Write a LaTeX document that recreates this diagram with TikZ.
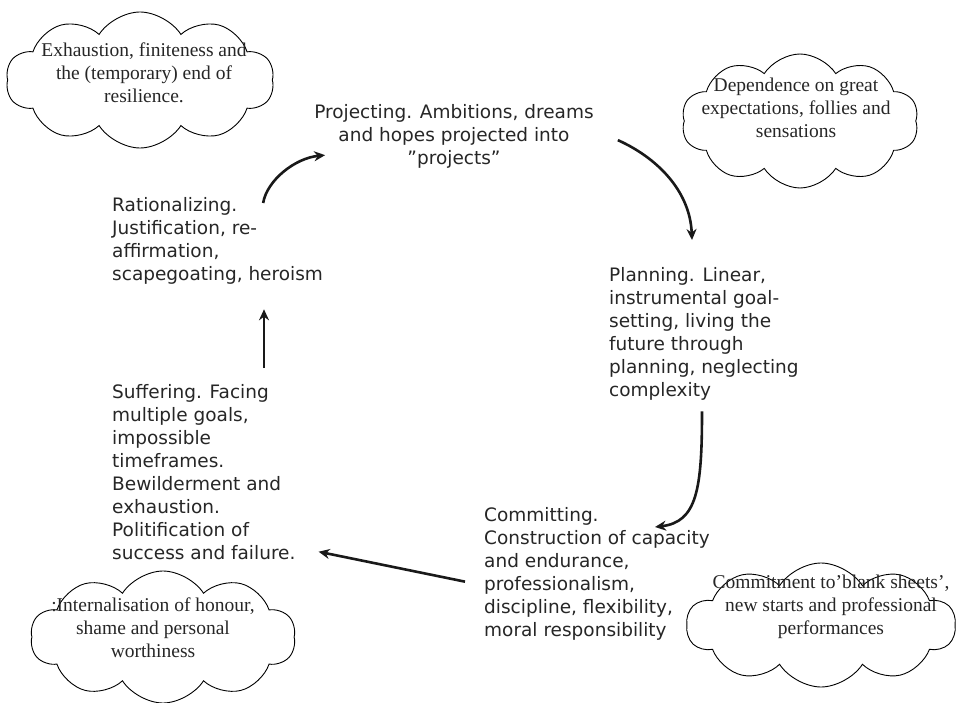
\documentclass[tikz,border=0pt]{standalone}
\usepackage{fontspec}
\setmainfont{DejaVu Sans}
\newfontfamily\cloudfont{Liberation Serif}
\usetikzlibrary{shapes.symbols,arrows.meta}

\begin{document}
\begin{tikzpicture}[x=1pt, y=-1pt]
  \tikzset{stage/.style={align=left,anchor=north west,inner sep=0pt,text=black!85,
                         font=\fontsize{18.5}{23}\selectfont},
           cloudbox/.style={cloud,draw,line width=0.9pt,cloud puffs=10,cloud puff arc=115,
                            cloud ignores aspect,inner sep=0pt},
           cloudtext/.style={align=center,inner sep=0pt,text=black!85,
                             font=\cloudfont\fontsize{19.5}{23}\selectfont},
           flow/.style={line width=2.6pt,black!90,-{Stealth[length=11pt,width=10pt]}}}
  \useasboundingbox (0,0) rectangle (965,703);
  \node[stage,anchor=north,align=center] (proj) at (454,104)
       {Projecting. Ambitions, dreams\\and hopes projected into\\”projects”};
  \node[stage] (plan) at (609,267)
       {Planning. Linear,\\instrumental goal-\\setting, living the\\future through\\planning, neglecting\\complexity};
  \node[stage] (com) at (484,507)
       {Committing.\\Construction of capacity\\and endurance,\\professionalism,\\discipline, flexibility,\\moral responsibility};
  \node[stage] (suf) at (112,384)
       {Suffering. Facing\\multiple goals,\\impossible\\timeframes.\\Bewilderment and\\exhaustion.\\Politification of\\success and failure.};
  \node[stage] (rat) at (112,197)
       {Rationalizing.\\Justification, re-\\affirmation,\\scapegoating, heroism};
  \node[cloudbox,minimum width=268,minimum height=136] (exh) at (140,80) {};
  \node[cloudtext] (exht) at (144,73) {Exhaustion, finiteness and\\the (temporary) end of\\resilience.};
  \node[cloudbox,minimum width=237,minimum height=134] (dep) at (800,121) {};
  \node[cloudtext] (dept) at (796,108) {Dependence on great\\expectations, follies and\\sensations};
  \node[cloudbox,minimum width=265,minimum height=132] (hon) at (163,637) {};
  \node[cloudtext] (hont) at (153,628) {:Internalisation of honour,\\shame and personal\\worthiness};
  \node[cloudbox,minimum width=269,minimum height=124] (blank) at (821,625) {};
  \node[cloudtext] (blankt) at (831,607) {Commitment to’blank sheets’,\\new starts and professional\\performances};
  \draw[flow] ([xshift=-60pt,yshift=-6pt]rat.north east) .. controls +(4,-23) and +(-30,3) .. ([xshift=11pt,yshift=-19pt]proj.west);
  \draw[flow] ([xshift=24pt,yshift=-4pt]proj.east) .. controls +(38,17) and +(-2,-50) .. ([xshift=83pt,yshift=27pt]plan.north west);
  \draw[flow] ([xshift=93pt,yshift=-11pt]plan.south west) .. controls +(0,78) and +(42,-5) .. ([xshift=171pt,yshift=-20pt]com.north west);
  \draw[flow] ([xshift=-19pt,yshift=-8pt]com.west) -- ([xshift=23pt,yshift=8pt]suf.south east);
  \draw[flow] ([xshift=152pt,yshift=16pt]suf.north west) -- ([xshift=152pt,yshift=-25pt]rat.south west);
\end{tikzpicture}
\end{document}
